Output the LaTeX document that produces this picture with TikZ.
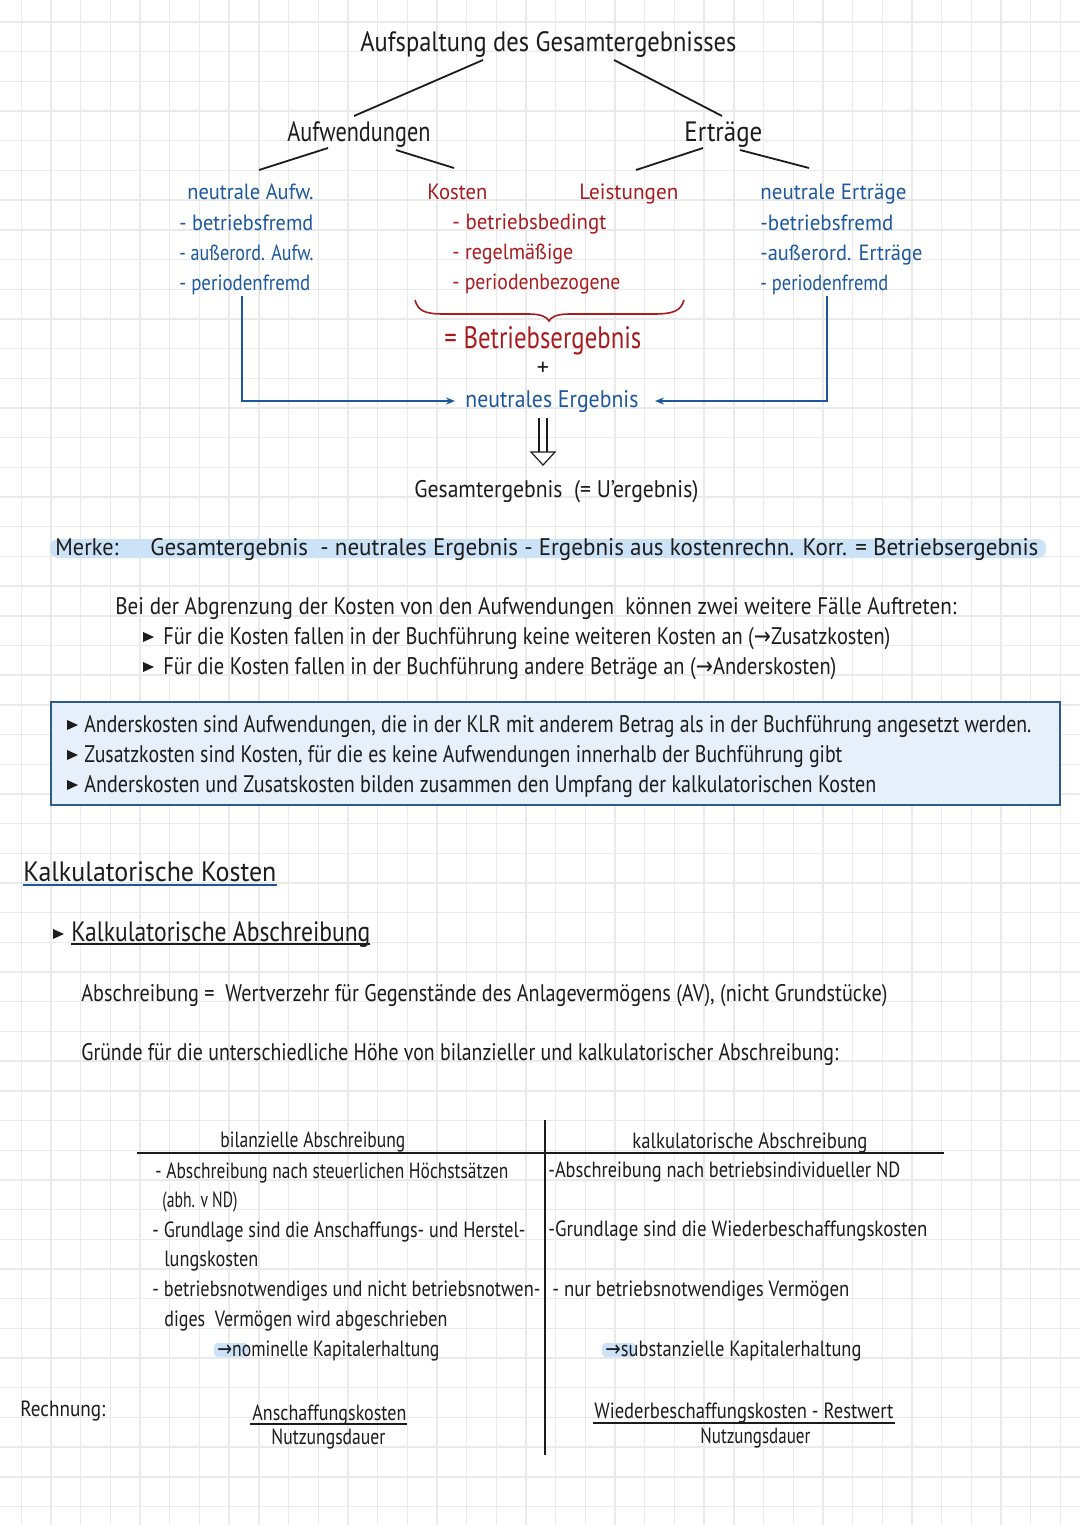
\documentclass[tikz,border=0pt]{standalone}
\usepackage{fontspec}
\usepackage{graphicx}
\setmainfont{PT Sans}
\newfontfamily\symf{DejaVu Sans}
\usetikzlibrary{calc,arrows.meta}
\newlength\pxu \setlength\pxu{0.5pt}
\newcommand\fw[2]{\resizebox{#1\pxu}{\height}{#2}}
\newcommand\arr{{\symf →}}
\definecolor{tblue}{RGB}{28,88,158}
\definecolor{tred}{RGB}{168,28,32}
\definecolor{ink}{RGB}{28,28,28}
\definecolor{gridc}{RGB}{234,234,234}
\definecolor{boxfill}{RGB}{230,239,250}
\definecolor{boxline}{RGB}{44,92,140}
\definecolor{hl}{RGB}{204,226,247}
\tikzset{
  txt/.style={inner sep=0pt, anchor=base west, text=ink},
  bl/.style={txt, text=tblue},
  rd/.style={txt, text=tred},
  fT/.style={font=\fontsize{14}{16}\selectfont},
  fA/.style={font=\fontsize{11}{13}\selectfont},
  fBE/.style={font=\fontsize{15.5}{18}\selectfont},
  fM/.style={font=\fontsize{12}{14}\selectfont},
  fTab/.style={font=\fontsize{11}{13}\selectfont},
  fH/.style={font=\fontsize{14}{16}\selectfont},
  treeline/.style={draw=ink, line width=0.9pt},
  bconn/.style={draw=tblue, line width=0.75pt, -{Stealth[length=4.5pt,width=3.5pt]}},
  rule/.style={draw=ink, line width=0.65pt},
}
\begin{document}
\begin{tikzpicture}[x=0.5pt, y=-0.5pt]
\useasboundingbox (0,0) rectangle (1080,1525);
\fill[white] (0,0) rectangle (1080,1525);
% grid
\foreach \i in {0,...,35} {\draw[gridc, line width=0.7pt] (21.3+\i*29.69,0) -- (21.3+\i*29.69,1525);}
\foreach \j in {0,...,50} {\draw[gridc, line width=0.7pt] (0,22+\j*29.69) -- (1080,22+\j*29.69);}

% ---------- tree ----------
\node[txt, fT] (title) at (360,52) {\fw{376}{Aufspaltung des Gesamtergebnisses}};
\node[txt, fT] (aufw) at (287,141) {\fw{143}{Aufwendungen}};
\node[txt, fT] (ertr) at (684,141) {\fw{78}{Erträge}};

\node[bl, fA] (nA) at (187,199) {\fw{126}{neutrale Aufw.}};
\node[bl, fA] (nA1) at (179,230) {\fw{134}{- betriebsfremd}};
\node[bl, fA] (nA2) at (179,260) {\fw{134}{- außerord. Aufw.}};
\node[bl, fA] (nA3) at (179,290) {\fw{131}{- periodenfremd}};

\node[rd, fA] (kost) at (427,199) {\fw{60}{Kosten}};
\node[rd, fA] (leist) at (579,199) {\fw{99}{Leistungen}};
\node[rd, fA] (r1) at (452,229) {\fw{154}{- betriebsbedingt}};
\node[rd, fA] (r2) at (452,259) {\fw{121}{- regelmäßige}};
\node[rd, fA] (r3) at (452,289) {\fw{168}{- periodenbezogene}};

\node[bl, fA] (nE) at (760,199) {\fw{146}{neutrale Erträge}};
\node[bl, fA] (nE1) at (760,230) {\fw{133}{-betriebsfremd}};
\node[bl, fA] (nE2) at (760,260) {\fw{162}{-außerord. Erträge}};
\node[bl, fA] (nE3) at (760,290) {\fw{128}{- periodenfremd}};

\draw[treeline] ($(title.base west)+(123,8)$) -- ($(aufw.base west)+(67,-25)$);
\draw[treeline] ($(title.base west)+(254,8)$) -- ($(ertr.base west)+(38,-25)$);
\draw[treeline] ($(aufw.base west)+(41,7)$) -- ($(nA.base west)+(72,-29)$);
\draw[treeline] ($(aufw.base west)+(109,9)$) -- ($(kost.base west)+(27,-31)$);
\draw[treeline] ($(ertr.base west)+(19,7)$) -- ($(leist.base west)+(57,-29)$);
\draw[treeline] ($(ertr.base west)+(56,9)$) -- ($(nE.base west)+(49,-31)$);

% brace
\coordinate (brtip) at ($(r3.base west)+(97,32)$);
\begin{scope}[shift={(brtip)}]
\draw[tred, line width=0.8pt] (-134,-21) .. controls (-131,-10) and (-124,-7) .. (-105,-7) -- (-20,-7) .. controls (-8,-7) and (-2,-4) .. (0,0) .. controls (2,-4) and (8,-7) .. (20,-7) -- (105,-7) .. controls (124,-7) and (132,-10) .. (135,-21);
\end{scope}

\node[rd, fBE] (be) at (444,348) {\fw{197}{= Betriebsergebnis}};
\node[inner sep=0pt, text=ink, font=\fontsize{12}{14}\selectfont] (plus) at (543,369) {+};
\node[bl, fM] (ne) at (465,407) {\fw{173}{neutrales Ergebnis}};
\node[txt, fM] (ge) at (414,497) {\fw{284}{Gesamtergebnis~ (= U'ergebnis)}};

\draw[bconn] ($(nA3.base west)+(63,6)$) |- ($(ne.base west)+(-10,-6)$);
\draw[bconn] ($(nE3.base west)+(67,6)$) |- ($(ne.base west)+(190,-6)$);

% double arrow
\coordinate (da) at ($(ne.base west)+(78,11)$);
\coordinate (db) at ($(ge.base west)+(129,-32)$);
\draw[ink, line width=0.6pt] ($(da)+(-4,0)$) -- ($(db)+(-4,-13)$);
\draw[ink, line width=0.6pt] ($(da)+(4,0)$) -- ($(db)+(4,-13)$);
\draw[ink, line width=0.6pt, fill=white, line join=miter] ($(db)+(-12,-13)$) -- (db) -- ($(db)+(12,-13)$) -- cycle;

% ---------- Merke ----------
\fill[hl, rounded corners=4pt] (50,539) rectangle (1046,558);
\node[txt, fM] (merke) at (55,555) {\fw{63}{Merke:}};
\node[txt, fM] (meq) at (150,555) {\fw{888}{Gesamtergebnis~ - neutrales Ergebnis - Ergebnis aus kostenrechn. Korr. = Betriebsergebnis}};

\node[txt, fM] (bei) at (115,614) {\fw{841}{Bei der Abgrenzung der Kosten von den Aufwendungen~ können zwei weitere Fälle Auftreten:}};
\fill[ink] (143,632) -- (154,637) -- (143,642) -- cycle;
\node[txt, fM] (b1) at (163,644) {\fw{727}{Für die Kosten fallen in der Buchführung keine weiteren Kosten an (\arr Zusatzkosten)}};
\fill[ink] (143,662) -- (154,667) -- (143,672) -- cycle;
\node[txt, fM] (b2) at (163,674) {\fw{673}{Für die Kosten fallen in der Buchführung andere Beträge an (\arr Anderskosten)}};

% ---------- box ----------
\node[draw=boxline, fill=boxfill, line width=1pt, minimum width=504.5pt, minimum height=51.5pt, inner sep=0pt] (box) at (555.5,753.5) {};
\fill[ink] (67,720) -- (78,725) -- (67,730) -- cycle;
\node[txt, fM] (k1) at (84,732) {\fw{947}{Anderskosten sind Aufwendungen, die in der KLR mit anderem Betrag als in der Buchführung angesetzt werden.}};
\fill[ink] (67,750) -- (78,755) -- (67,760) -- cycle;
\node[txt, fM] (k2) at (84,762) {\fw{758}{Zusatzkosten sind Kosten, für die es keine Aufwendungen innerhalb der Buchführung gibt}};
\fill[ink] (67,780) -- (78,785) -- (67,790) -- cycle;
\node[txt, fM] (k3) at (84,792) {\fw{792}{Anderskosten und Zusatskosten bilden zusammen den Umpfang der kalkulatorischen Kosten}};

% ---------- Kalkulatorische Kosten ----------
\node[txt, fH] (kk) at (23,881) {\fw{253}{Kalkulatorische Kosten}};
\draw[tblue, line width=1.2pt] ($(kk.base west)+(0,4)$) -- ($(kk.base west)+(254,4)$);
\fill[ink] (53,929) -- (64,934) -- (53,939) -- cycle;
\node[txt, fH] (ka) at (71,941) {\fw{299}{Kalkulatorische Abschreibung}};
\draw[ink, line width=0.8pt] ($(ka.base west)+(0,3)$) -- ($(ka.base west)+(299,3)$);

\node[txt, fM] (abs) at (81,1001) {\fw{806}{Abschreibung =~ Wertverzehr für Gegenstände des Anlagevermögens (AV), (nicht Grundstücke)}};
\node[txt, fM] (gr) at (81,1060) {\fw{757}{Gründe für die unterschiedliche Höhe von bilanzieller und kalkulatorischer Abschreibung:}};

% ---------- table ----------
\draw[rule] (545,1120) -- (545,1455);
\draw[rule] (137,1153) -- (944,1153);
\node[txt, fTab] (th1) at (220,1147) {\fw{185}{bilanzielle Abschreibung}};
\node[txt, fTab] (th2) at (632,1148) {\fw{235}{kalkulatorische Abschreibung}};

\node[txt, fTab] (l1) at (155,1178) {\fw{353}{- Abschreibung nach steuerlichen Höchstsätzen}};
\node[txt, fTab] (l2) at (162,1207) {\fw{75}{(abh. v ND)}};
\node[txt, fTab] (l3) at (152,1237) {\fw{373}{- Grundlage sind die Anschaffungs- und Herstel-}};
\node[txt, fTab] (l4) at (164,1266) {\fw{94}{lungskosten}};
\node[txt, fTab] (l5) at (152,1296) {\fw{388}{- betriebsnotwendiges und nicht betriebsnotwen-}};
\node[txt, fTab] (l6) at (164,1326) {\fw{283}{diges~ Vermögen wird abgeschrieben}};
\fill[hl, rounded corners=2pt] (214,1343) rectangle (248,1357);
\node[txt, fTab] (l7) at (217,1356) {\fw{222}{\arr nominelle Kapitalerhaltung}};

\node[txt, fTab] (r1t) at (548,1177) {\fw{352}{-Abschreibung nach betriebsindividueller ND}};
\node[txt, fTab] (r2t) at (548,1236) {\fw{379}{-Grundlage sind die Wiederbeschaffungskosten}};
\node[txt, fTab] (r3t) at (552,1296) {\fw{297}{- nur betriebsnotwendiges Vermögen}};
\fill[hl, rounded corners=2pt] (602,1343) rectangle (636,1357);
\node[txt, fTab] (r4t) at (605,1356) {\fw{256}{\arr substanzielle Kapitalerhaltung}};

% ---------- Rechnung ----------
\node[txt, fTab] (rech) at (20,1416) {\fw{85}{Rechnung:}};
\node[txt, fTab] (fl1) at (252,1420) {\fw{154}{Anschaffungskosten}};
\node[txt, fTab] (fl2) at (271,1444) {\fw{114}{Nutzungsdauer}};
\draw[ink, line width=0.9pt] ($(fl1.base west)+(-2,4)$) -- ($(fl1.base west)+(155,4)$);
\node[txt, fTab] (fr1) at (594,1418) {\fw{299}{Wiederbeschaffungskosten - Restwert}};
\node[txt, fTab] (fr2) at (700,1443) {\fw{110}{Nutzungsdauer}};
\draw[ink, line width=0.9pt] ($(fr1.base west)+(-1,5)$) -- ($(fr1.base west)+(301,5)$);
\end{tikzpicture}
\end{document}
